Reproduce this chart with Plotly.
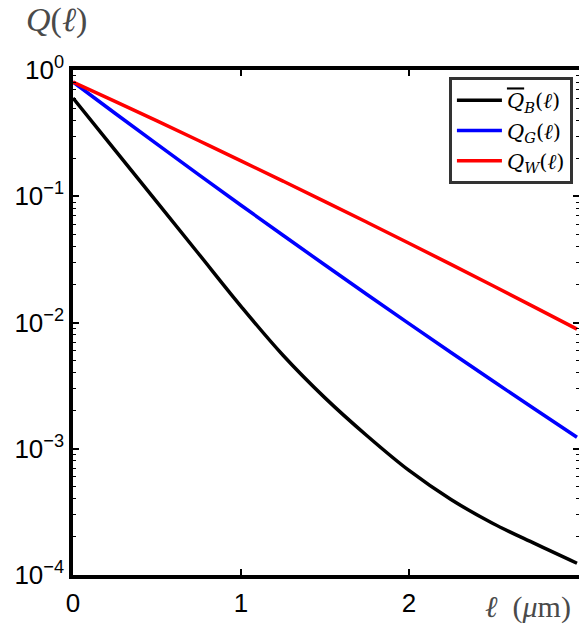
import plotly.graph_objects as go

x_um = [0.0, 0.25, 0.5, 0.75, 1.0, 1.25, 1.5, 1.75, 2.0, 2.25, 2.5, 2.75, 3.0]
log_q_b = [-0.222, -0.6345, -1.047, -1.4595, -1.872, -2.2595, -2.597, -2.897,
           -3.172, -3.402, -3.592, -3.752, -3.907]
q_b = [10 ** v for v in log_q_b]
q_g = [0.8035, 0.4544, 0.2584, 0.1477, 0.0849, 0.0491, 0.02852, 0.01667,
       0.00980, 0.00579, 0.003437, 0.002053, 0.001233]
q_w = [0.8035, 0.5643, 0.3948, 0.2750, 0.1908, 0.1318, 0.09075, 0.06219,
       0.04246, 0.02887, 0.01954, 0.01318, 0.008857]

names = ['<i><span style="text-decoration:overline">Q</span></i><sub><i>B</i></sub>(<i>ℓ</i>)',
         '<i>Q</i><sub><i>G</i></sub>(<i>ℓ</i>)',
         '<i>Q</i><sub><i>W</i></sub>(<i>ℓ</i>)']

x_ticks = [0, 1, 2]
y_ticks = [1, 0.1, 0.01, 0.001, 0.0001]
y_ticktext = ["10<sup>0</sup>", "10<sup>−1</sup>", "10<sup>−2</sup>",
              "10<sup>−3</sup>", "10<sup>−4</sup>"]

fig = go.Figure()
for ys, nm, col in [(q_b, names[0], "black"),
                    (q_g, names[1], "#0000ff"),
                    (q_w, names[2], "#ff0000")]:
    fig.add_trace(go.Scatter(x=x_um, y=ys, mode="lines", name=nm,
                             line=dict(color=col, width=3.5, shape="spline", smoothing=1.0)))

fig.update_layout(
    width=579, height=628,
    margin=dict(l=73, r=0, t=70, b=53, autoexpand=False),
    paper_bgcolor="white", plot_bgcolor="white",
    font=dict(family="Liberation Sans, Arial", size=26, color="black"),
    showlegend=True,
    legend=dict(x=0.988, y=0.986, xanchor="right", yanchor="top",
                bgcolor="white", bordercolor="#333333", borderwidth=3,
                font=dict(family="DejaVu Serif, Liberation Serif", size=21, color="black"),
                tracegroupgap=0, itemwidth=45),
)
fig.update_xaxes(range=[0, 3.012], tickvals=x_ticks, ticktext=[str(v) for v in x_ticks],
                 showline=True, linecolor="black", linewidth=3.5, mirror="ticks",
                 ticks="inside", ticklen=6, tickwidth=2, tickcolor="black",
                 ticklabelstandoff=2, automargin=False,
                 showgrid=False, zeroline=False)
fig.update_yaxes(type="log", range=[-4, 0], tickvals=y_ticks, ticktext=y_ticktext,
                 showline=True, linecolor="black", linewidth=3.5, mirror="ticks",
                 ticks="inside", ticklen=6, tickwidth=2, tickcolor="black",
                 automargin=False,
                 minor=dict(ticks="inside", ticklen=3, tickwidth=1, tickcolor="black",
                            dtick="D1", showgrid=False),
                 showgrid=False, zeroline=False)

fig.add_annotation(text="<i>Q</i>(<i>ℓ</i>)", xref="paper", yref="paper",
                   x=-0.032, y=1.099, xanchor="center", yanchor="middle", showarrow=False,
                   font=dict(family="Liberation Serif, DejaVu Serif", size=34, color="#4a4a4a"))
fig.add_annotation(text="<i>ℓ</i>  (<i>μ</i>m)", xref="paper", yref="paper",
                   x=0.899, y=-0.063, xanchor="center", yanchor="middle", showarrow=False,
                   font=dict(family="Liberation Serif, DejaVu Serif", size=30, color="#4a4a4a"))

fig.write_html("out.html", config={"displayModeBar": False, "responsive": False},
               post_script="document.body.style.margin='0';document.body.style.overflow='hidden';")
